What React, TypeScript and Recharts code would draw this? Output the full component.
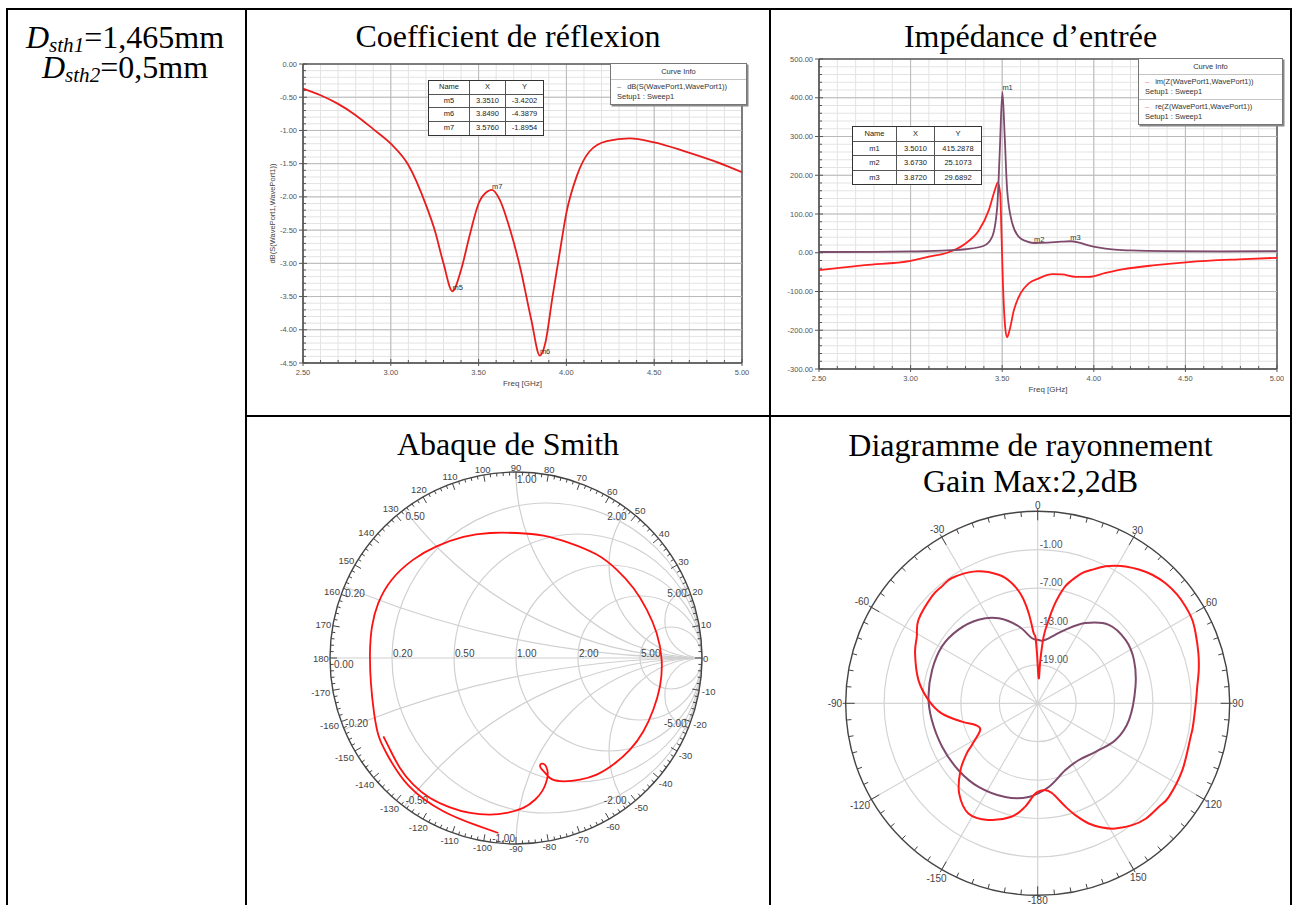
import React from 'react';
import * as R from 'recharts';
import {
  LineChart, Line, XAxis, YAxis, CartesianGrid, ReferenceLine, ReferenceDot,
  RadarChart, Radar, PolarGrid, PolarAngleAxis, PolarRadiusAxis,
} from 'recharts';

const SERIF = '"Liberation Serif", "Times New Roman", Times, serif';
const SANS = '"Liberation Sans", Arial, Helvetica, sans-serif';

// ---------------- Coefficient de réflexion (dB S11) ----------------
const s11Freq = [2.5, 2.6, 2.7, 2.8, 2.9, 3.0, 3.1, 3.2, 3.25, 3.3, 3.351, 3.4, 3.45, 3.5, 3.55, 3.576, 3.62, 3.68, 3.74, 3.8, 3.849, 3.88, 3.92, 3.96, 4.0, 4.06, 4.13, 4.23, 4.36, 4.5, 4.67, 4.85, 5.0];
const s11Db = [-0.37, -0.47, -0.6, -0.77, -0.98, -1.2, -1.52, -2.12, -2.5, -3.0, -3.42, -3.1, -2.57, -2.1, -1.92, -1.895, -2.04, -2.5, -3.1, -3.85, -4.388, -4.2, -3.52, -2.87, -2.24, -1.68, -1.32, -1.16, -1.12, -1.18, -1.31, -1.47, -1.63];
const s11MarkerName = ['m5', 'm6', 'm7'];
const s11MarkerX = [3.351, 3.849, 3.576];
const s11MarkerY = [-3.4202, -4.3879, -1.8954];

// ---------------- Impédance d'entrée ----------------
const zImFreq = [2.5, 2.75, 3.0, 3.1, 3.2, 3.3, 3.373, 3.427, 3.46, 3.476, 3.489, 3.496, 3.504, 3.518, 3.527, 3.54, 3.564, 3.6, 3.645, 3.7, 3.773, 3.827, 3.9, 3.973, 4.064, 4.155, 4.336, 4.518, 4.79, 5.0];
const zIm = [-45, -32, -21, -10, 0, 24, 58, 110, 162, 181, 153, 50, -79, -200, -218, -200, -148, -105, -79, -66, -55, -56, -62, -62, -52, -43, -32, -24, -17, -13];
const zReFreq = [2.5, 2.8, 3.0, 3.2, 3.3, 3.4, 3.445, 3.473, 3.487, 3.501, 3.513, 3.527, 3.555, 3.591, 3.63, 3.673, 3.75, 3.82, 3.872, 3.92, 3.97, 4.03, 4.1, 4.2, 4.4, 4.7, 5.0];
const zRe = [2, 2.5, 3.5, 6, 9, 18, 41, 119, 265, 415.29, 308, 162, 76, 41, 30, 25.11, 26, 28.5, 29.69, 26, 19, 13, 8.5, 6, 4.2, 3.8, 4.2];
const zMarkerName = ['m1', 'm2', 'm3'];
const zMarkerX = [3.501, 3.673, 3.872];
const zMarkerY = [415.2878, 25.1073, 29.6892];

// ---------------- Axis ticks ----------------
const freqMajor = [2.5, 3, 3.5, 4, 4.5, 5];
const s11Major = [0, -0.5, -1, -1.5, -2, -2.5, -3, -3.5, -4, -4.5];
const zMajor = [-300, -200, -100, 0, 100, 200, 300, 400, 500];

// ---------------- Abaque de Smith (reflection coefficient) ----------------
const smithGammaRe = [-0.095, -0.211, -0.391, -0.579, -0.692, -0.738, -0.763, -0.78, -0.785, -0.774, -0.74, -0.668, -0.552, -0.427, -0.283, -0.14, 0.004, 0.147, 0.29, 0.434, 0.541, 0.631, 0.703, 0.756, 0.783, 0.774, 0.738, 0.685, 0.613, 0.523, 0.434, 0.344, 0.254, 0.192, 0.165, 0.14, 0.129, 0.138, 0.156, 0.168, 0.17, 0.161, 0.14, 0.102, 0.039, -0.05, -0.14, -0.247, -0.355, -0.462, -0.552, -0.624, -0.677, -0.713];
const smithGammaIm = [-0.941, -0.9, -0.824, -0.685, -0.52, -0.421, -0.296, -0.134, 0.027, 0.17, 0.296, 0.421, 0.529, 0.6, 0.651, 0.672, 0.672, 0.658, 0.618, 0.556, 0.475, 0.376, 0.26, 0.134, -0.009, -0.152, -0.278, -0.394, -0.493, -0.573, -0.627, -0.654, -0.663, -0.651, -0.627, -0.6, -0.579, -0.568, -0.575, -0.6, -0.633, -0.672, -0.717, -0.762, -0.806, -0.833, -0.842, -0.833, -0.803, -0.753, -0.681, -0.591, -0.493, -0.421];
const smithCircles = [0.2, 0.5, 1, 2, 5];

// ---------------- Diagramme de rayonnement ----------------
const radRedAngle = [-178.5, -173, -167, -157, -148, -139, -131, -125.3, -122.4, -114.9, -109.2, -103.6, -96, -88.2, -78.9, -67.8, -61.1, -55, -44.7, -39.4, -34.4, -25.3, -16.9, -12.1, -8.4, -5.7, -3.3, -2, -0.8, 2.3, 3.5, 5.1, 7.5, 9.4, 11.1, 13.3, 15.6, 18.8, 22.2, 26.3, 29.5, 32.7, 37.1, 41.7, 46.8, 52.1, 56.8, 61.6, 66, 72.7, 78.3, 84, 90, 98.6, 102.3, 114.8, 125.5, 130.5, 136.9, 142.2, 148.2, 152.6, 157, 161.4, 165, 171, 176];
const radRedDb = [-10.9, -8.7, -6.8, -5.2, -4.65, -6.3, -9.0, -11.4, -12.8, -15.1, -14.7, -12.8, -9.9, -7.9, -6.0, -4.3, -3.42, -2.25, -1.5, -1.39, -1.27, -2.2, -4.0, -5.8, -8.1, -10.85, -14.0, -14.6, -17.2, -21.1, -18.2, -14.5, -11.85, -9.66, -8.0, -6.2, -5.0, -3.5, -2.46, -1.13, -0.3, 0.4, 1.2, 1.9, 2.4, 2.62, 2.6, 2.45, 2.0, 1.3, 0.7, 0.07, -0.3, -0.48, -0.54, -0.1, 0.17, -0.1, -0.3, -0.9, -1.97, -3.14, -4.6, -6.56, -8.3, -10.8, -11.4];
const radPurpleAngle = [-174.5, -160.9, -144.7, -130.2, -114.4, -99, -86.5, -72.5, -59.4, -47.1, -35.3, -24.6, -13.9, -5, 1, 4, 9.6, 20.7, 30.8, 42.2, 54.2, 65.7, 80.3, 100.4, 115.3, 130, 144, 157.5, 172.5];
const radPurpleDb = [-10.3, -9.5, -9.0, -8.8, -8.6, -8.25, -7.9, -7.7, -7.6, -8.1, -9.0, -10.4, -12.6, -14.8, -15.1, -15.2, -14.7, -12.7, -10.4, -8.45, -8.07, -8.5, -9.5, -10.5, -11.55, -13.2, -14.05, -13.7, -11.8];
const radRings = [-19, -13, -7, -1];

// ---------------- helpers ----------------
function range(a: number, b: number, step: number) {
  const out: number[] = [];
  const n = Math.round((b - a) / step);
  for (let i = 0; i <= n; i++) out.push(Math.round((a + i * step) * 1e6) / 1e6);
  return out;
}
const freqTicks = range(2.5, 5, 0.1);
const s11Ticks = range(-4.5, 0, 0.1);
const zTicks = range(-300, 500, 20);
const radRingTicks = range(-175, 180, 5);
const smithTickAngles = range(-178, 180, 2);

const s11Rows = s11Freq.map((f, i) => ({ f, v: s11Db[i] }));
const zImRows = zImFreq.map((f, i) => ({ f, v: zIm[i] }));
const zReRows = zReFreq.map((f, i) => ({ f, v: zRe[i] }));
const smithRows = smithGammaRe.map((gr, i) => ({ gr, gi: smithGammaIm[i] }));
const radRedRows = radRedAngle.map((a, i) => ({ a, db: radRedDb[i] }));
const radPurpleRows = radPurpleAngle.map((a, i) => ({ a, db: radPurpleDb[i] }));

const usePlotAreaSafe: () => any = (R as any).usePlotArea || (() => undefined);

// ---------------- HFSS style rectangular chart ----------------
function HfTickY(props: any) {
  const { x, y, payload, step } = props;
  const v = Number(payload.value);
  const major = Math.abs(v / step - Math.round(v / step)) < 1e-6;
  return (
    <g>
      <line x1={major ? x - 4 : x} x2={major ? x + 4 : x + 3} y1={y} y2={y} stroke="#555" strokeWidth={1} />
      {major ? (
        <text x={x - 6} y={y} textAnchor="end" dominantBaseline="central" fontSize={7.5} fill="#555" fontFamily={SANS}>
          {v.toFixed(2)}
        </text>
      ) : null}
    </g>
  );
}

function HfTickX(props: any) {
  const { x, y, payload } = props;
  const v = Number(payload.value);
  const major = Math.abs(v * 2 - Math.round(v * 2)) < 1e-6;
  return (
    <g>
      <line x1={x} x2={x} y1={major ? y - 4 : y - 3} y2={major ? y + 3 : y} stroke="#555" strokeWidth={1} />
      {major ? (
        <text x={x} y={y + 9} textAnchor="middle" dominantBaseline="central" fontSize={7.5} fill="#555" fontFamily={SANS}>
          {v.toFixed(2)}
        </text>
      ) : null}
    </g>
  );
}

function HfChart(p: any) {
  const yMax = p.yDomain[1];
  return (
    <div style={{ position: 'absolute', left: p.left, top: p.top }}>
      <LineChart width={p.width} height={p.height} margin={p.margin}>
        <CartesianGrid stroke="#e3e3e3" strokeWidth={1} />
        <XAxis
          type="number" dataKey="f" domain={[2.5, 5]} ticks={freqTicks} interval={0} allowDataOverflow
          height={30} tickSize={0} tickMargin={0} tickLine={false}
          axisLine={{ stroke: '#444', strokeWidth: 1.5 }} tick={<HfTickX />}
          label={{ value: 'Freq [GHz]', position: 'insideBottom', offset: 7, fontSize: 8, fill: '#444', fontFamily: SANS }}
        />
        <YAxis
          type="number" dataKey="v" domain={p.yDomain} ticks={p.yTicks} interval={0} allowDataOverflow
          width={p.yAxisWidth} tickSize={0} tickMargin={0} tickLine={false}
          axisLine={{ stroke: '#444', strokeWidth: 1.5 }} tick={<HfTickY step={p.yStep} />}
          label={p.yLabel ? { value: p.yLabel, angle: -90, position: 'insideLeft', offset: 14, fontSize: 7.5, fill: '#444', fontFamily: SANS, style: { textAnchor: 'middle' } } : undefined}
        />
        {freqMajor.map((v) => (
          <ReferenceLine key={'vx' + v} x={v} stroke={v === 5 ? '#555' : '#b9b9b9'} strokeWidth={v === 5 ? 1.5 : 1} />
        ))}
        {p.yMajor.map((v: number) => (
          <ReferenceLine key={'hy' + v} y={v} stroke={v === yMax ? '#555' : '#b9b9b9'} strokeWidth={v === yMax ? 1.5 : 1} />
        ))}
        {p.series.map((s: any) => (
          <Line key={s.name} data={s.data} dataKey="v" type="monotone" stroke={s.color} strokeWidth={1.8} dot={false} isAnimationActive={false} />
        ))}
        {p.markers.names.map((n: string, i: number) => (
          <ReferenceDot
            key={n} x={p.markers.xs[i]} y={p.markers.ys[i]} r={0} fill="none" stroke="none"
            label={{ value: n, position: 'right', offset: 0, dy: -4, fontSize: 7.5, fill: '#333', fontFamily: SANS }}
          />
        ))}
      </LineChart>
    </div>
  );
}

function MarkerTable({ left, top, cols, rowH, names, xs, ys }: any) {
  const rows = [['Name', 'X', 'Y'], ...names.map((n: string, i: number) => [n, xs[i].toFixed(4), ys[i].toFixed(4)])];
  return (
    <div style={{ position: 'absolute', left, top, border: '1.5px solid #333', background: '#fff', fontFamily: SANS, fontSize: 7.5, color: '#222' }}>
      {rows.map((r: string[], i: number) => (
        <div key={i} style={{ display: 'flex', borderTop: i ? '1px solid #555' : 'none' }}>
          {r.map((c, j) => (
            <div key={j} style={{ width: cols[j], height: rowH, lineHeight: rowH + 'px', textAlign: 'center', borderLeft: j ? '1px solid #555' : 'none', boxSizing: 'border-box' }}>
              {c}
            </div>
          ))}
        </div>
      ))}
    </div>
  );
}

function CurveInfo({ left, top, width, entries }: any) {
  return (
    <div style={{ position: 'absolute', left, top, width, background: '#fff', border: '1px solid #777', boxShadow: '1.5px 1.5px 0 #888', fontFamily: SANS, fontSize: 7.5, color: '#333', lineHeight: '10px' }}>
      <div style={{ textAlign: 'center', padding: '3px 0 2px', borderBottom: '1px solid #c4c4c4' }}>Curve Info</div>
      {entries.map((e: any, i: number) => (
        <div key={i} style={{ padding: '2px 4px 2px 6px', borderTop: i > 0 ? '1px solid #c4c4c4' : 'none' }}>
          <div><span style={{ color: e.color, marginRight: 6 }}>–</span>{e.name}</div>
          <div>Setup1 : Sweep1</div>
        </div>
      ))}
    </div>
  );
}

// ---------------- Smith chart grid ----------------
function SmithGrid({ fb }: any) {
  const pa = usePlotAreaSafe() || fb;
  const cx = pa.x + pa.width / 2;
  const cy = pa.y + pa.height / 2;
  const rad = Math.min(pa.width, pa.height) / 2;
  const gx = (g: number) => cx + g * rad;
  const gy = (g: number) => cy - g * rad;
  const grid = '#d0d0d0';
  const out: React.ReactNode[] = [];
  out.push(
    <defs key="defs">
      <clipPath id="smith-clip"><circle cx={cx} cy={cy} r={rad} /></clipPath>
    </defs>
  );
  out.push(<line key="hline" x1={gx(-1)} x2={gx(1)} y1={cy} y2={cy} stroke={grid} strokeWidth={1.2} />);
  smithCircles.forEach((r) => {
    out.push(<circle key={'r' + r} cx={gx(r / (1 + r))} cy={cy} r={rad / (1 + r)} fill="none" stroke={grid} strokeWidth={1.2} />);
  });
  smithCircles.forEach((x) => [x, -x].forEach((xv) => {
    out.push(<circle key={'x' + xv} cx={gx(1)} cy={gy(1 / xv)} r={rad / Math.abs(xv)} fill="none" stroke={grid} strokeWidth={1.2} clipPath="url(#smith-clip)" />);
  }));
  out.push(<circle key="ring" cx={cx} cy={cy} r={rad} fill="none" stroke="#444" strokeWidth={1.4} />);
  smithTickAngles.forEach((a) => {
    const major = a % 10 === 0;
    const len = major ? 7 : 3.5;
    const t = (a * Math.PI) / 180;
    const c = Math.cos(t);
    const s = Math.sin(t);
    out.push(<line key={'t' + a} x1={cx + rad * c} y1={cy - rad * s} x2={cx + (rad - len) * c} y2={cy - (rad - len) * s} stroke="#444" strokeWidth={1} />);
    if (major && a !== -180) {
      const txt = String(a);
      const d = rad + 1 + 2.7 * txt.length * Math.abs(c) + 3.5 * Math.abs(s);
      out.push(
        <text key={'l' + a} x={cx + d * c} y={cy - d * s} textAnchor="middle" dominantBaseline="central" fontSize={9.5} fill="#444" fontFamily={SANS}>
          {txt}
        </text>
      );
    }
  });
  smithCircles.forEach((r) => {
    out.push(
      <text key={'rl' + r} x={gx((r - 1) / (r + 1)) + 1} y={cy - 1} textAnchor="start" fontSize={10} fill="#444" fontFamily={SANS}>
        {r.toFixed(2)}
      </text>
    );
  });
  smithCircles.forEach((x) => [x, -x].forEach((xv) => {
    const phi = (Math.sign(xv) * (180 - (2 * Math.atan(Math.abs(xv)) * 180) / Math.PI) * Math.PI) / 180;
    const ex = cx + rad * Math.cos(phi);
    const ey = cy - rad * Math.sin(phi);
    const c = Math.cos(phi);
    let anchor = 'end';
    let tx = ex - 1;
    if (c < -0.01 || (xv > 0 && Math.abs(c) <= 0.01)) { anchor = 'start'; tx = ex + 1; }
    out.push(
      <text key={'xl' + xv} x={tx} y={xv > 0 ? ey + 7 : ey - 6} textAnchor={anchor} dominantBaseline="central" fontSize={10} fill="#444" fontFamily={SANS}>
        {xv.toFixed(2)}
      </text>
    );
  }));
  out.push(
    <text key="zero" x={gx(-1) + 4} y={cy + 6} textAnchor="start" dominantBaseline="central" fontSize={10} fill="#444" fontFamily={SANS}>0.00</text>
  );
  return <g>{out}</g>;
}

// ---------------- Polar (radiation) ticks & smooth shape ----------------
function PolarRingTick(props: any) {
  const { payload } = props;
  const cx = typeof props.cx === 'number' ? props.cx : props.fcx;
  const cy = typeof props.cy === 'number' ? props.cy : props.fcy;
  const radius = typeof props.radius === 'number' ? props.radius : props.fr;
  const th = Number(payload.value);
  const ang = 90 - th;
  const t = (ang * Math.PI) / 180;
  const c = Math.cos(t);
  const s = Math.sin(t);
  const major = Math.abs(th % 30) < 1e-6;
  const rin = radius - (major ? 9 : 5);
  const rout = radius + (major ? 3 : 0);
  const txt = th === 180 ? '-180' : String(th);
  const d = radius + 3 + 2.6 * txt.length * Math.abs(c) + 2.5 * Math.abs(s);
  return (
    <g>
      <line x1={cx + rin * c} y1={cy - rin * s} x2={cx + rout * c} y2={cy - rout * s} stroke="#444" strokeWidth={1} />
      {major ? (
        <text x={cx + d * c} y={cy - d * s} textAnchor="middle" dominantBaseline="central" fontSize={10} fill="#444" fontFamily={SANS}>
          {txt}
        </text>
      ) : null}
    </g>
  );
}

function RadiusTick(props: any) {
  const { x, y, payload } = props;
  return (
    <text x={x + 2} y={y - 2} textAnchor="start" fontSize={10} fill="#555" fontFamily={SANS}>
      {Number(payload.value).toFixed(2)}
    </text>
  );
}

// closed Catmull-Rom path through the points Recharts computed for the Radar
function SmoothRadarShape(props: any) {
  const pts: any[] = (props.points || []).filter((p: any) => Number.isFinite(p.x) && Number.isFinite(p.y));
  const n = pts.length;
  if (n < 3) return null;
  let d = `M${pts[0].x},${pts[0].y}`;
  for (let i = 0; i < n; i++) {
    const p0 = pts[(i - 1 + n) % n];
    const p1 = pts[i];
    const p2 = pts[(i + 1) % n];
    const p3 = pts[(i + 2) % n];
    const c1x = p1.x + (p2.x - p0.x) / 6;
    const c1y = p1.y + (p2.y - p0.y) / 6;
    const c2x = p2.x - (p3.x - p1.x) / 6;
    const c2y = p2.y - (p3.y - p1.y) / 6;
    d += ` C${c1x},${c1y} ${c2x},${c2y} ${p2.x},${p2.y}`;
  }
  return <path d={d + 'Z'} fill="none" stroke={props.stroke} strokeWidth={props.strokeWidth} strokeLinejoin="round" />;
}

const RAD = { w: 460, h: 425, cx: 227.7, cy: 223.3, r: 192 };
const ZERO_M = { top: 0, right: 0, bottom: 0, left: 0 };

function RadarLayer({ rows, color }: any) {
  return (
    <div style={{ position: 'absolute', left: 0, top: 0 }}>
      <RadarChart width={RAD.w} height={RAD.h} cx={RAD.cx} cy={RAD.cy} outerRadius={RAD.r} startAngle={270} endAngle={-90} data={rows} margin={ZERO_M}>
        <PolarAngleAxis dataKey="a" type="number" domain={[-180, 180]} ticks={[-180, 180]} tick={false} tickLine={false} axisLine={false} />
        <PolarRadiusAxis type="number" domain={[-25, 5]} tick={false} axisLine={false} tickLine={false} />
        <Radar dataKey="db" stroke={color} strokeWidth={2} fill="none" fillOpacity={0} dot={false} isAnimationActive={false} shape={(p: any) => <SmoothRadarShape {...p} stroke={color} strokeWidth={2} />} />
      </RadarChart>
    </div>
  );
}

function Rule({ left, top, width, height }: any) {
  return <div style={{ position: 'absolute', left, top, width, height, background: '#000' }} />;
}

function Title({ left, width, top, lineHeight, lines }: any) {
  return (
    <div style={{ position: 'absolute', left, width, top, textAlign: 'center', fontFamily: SERIF, fontSize: 32, lineHeight: lineHeight + 'px', color: '#000', whiteSpace: 'nowrap' }}>
      {lines.map((l: string) => <div key={l}>{l}</div>)}
    </div>
  );
}

export default function App() {
  const subStyle: React.CSSProperties = { fontSize: '0.66em', verticalAlign: '-0.2em', lineHeight: 0 };
  return (
    <div style={{ position: 'absolute', left: 0, top: 0, width: 1293, height: 905, overflow: 'hidden', background: '#fff' }}>
      {/* table rules */}
      <Rule left={6} top={8} width={1286} height={2} />
      <Rule left={6} top={8} width={2} height={900} />
      <Rule left={245} top={8} width={2} height={900} />
      <Rule left={769} top={8} width={2} height={900} />
      <Rule left={1290} top={8} width={2} height={900} />
      <Rule left={245} top={415} width={1047} height={2} />

      {/* left cell */}
      <div style={{ position: 'absolute', left: 8, width: 234, top: 22, textAlign: 'center', fontFamily: SERIF, fontSize: 32, lineHeight: '30px', whiteSpace: 'nowrap' }}>
        <div><i>D<sub style={subStyle}>sth1</sub></i>=1,465mm</div>
        <div><i>D<sub style={subStyle}>sth2</sub></i>=0,5mm</div>
      </div>

      {/* titles */}
      <Title left={247} width={522} top={21} lineHeight={30} lines={['Coefficient de réflexion']} />
      <Title left={771} width={519} top={21} lineHeight={30} lines={['Impédance d’entrée']} />
      <Title left={247} width={522} top={429} lineHeight={30} lines={['Abaque de Smith']} />
      <Title left={771} width={519} top={427} lineHeight={36} lines={['Diagramme de rayonnement', 'Gain Max:2,2dB']} />

      {/* Coefficient de réflexion */}
      <HfChart
        left={250} top={50} width={500} height={345}
        margin={{ top: 14, right: 8, bottom: 2, left: 8 }} yAxisWidth={45}
        yDomain={[-4.5, 0]} yTicks={s11Ticks} yStep={0.5} yMajor={s11Major}
        yLabel="dB(S(WavePort1,WavePort1))"
        series={[{ name: 's11', data: s11Rows, color: '#e81c1c' }]}
        markers={{ names: s11MarkerName, xs: s11MarkerX, ys: s11MarkerY }}
      />
      <MarkerTable left={428} top={80} cols={[40, 36, 38]} rowH={12.7} names={s11MarkerName} xs={s11MarkerX} ys={s11MarkerY} />
      <CurveInfo left={610} top={63} width={135} entries={[{ name: 'dB(S(WavePort1,WavePort1))', color: '#777' }]} />

      {/* Impédance d'entrée */}
      <HfChart
        left={772} top={48} width={512} height={355}
        margin={{ top: 11, right: 7, bottom: 4, left: 7 }} yAxisWidth={40}
        yDomain={[-300, 500]} yTicks={zTicks} yStep={100} yMajor={zMajor}
        series={[
          { name: 'im', data: zImRows, color: '#ff1f1f' },
          { name: 're', data: zReRows, color: '#7e4a6c' },
        ]}
        markers={{ names: zMarkerName, xs: zMarkerX, ys: zMarkerY }}
      />
      <MarkerTable left={852} top={126} cols={[43, 38, 47]} rowH={13.5} names={zMarkerName} xs={zMarkerX} ys={zMarkerY} />
      <CurveInfo left={1138} top={58} width={143} entries={[
        { name: 'im(Z(WavePort1,WavePort1))', color: '#f77' },
        { name: 're(Z(WavePort1,WavePort1))', color: '#f77' },
      ]} />

      {/* Abaque de Smith */}
      <div style={{ position: 'absolute', left: 300, top: 440 }}>
        <LineChart width={440} height={440} data={smithRows} margin={{ top: 32, right: 38, bottom: 36, left: 30 }}>
          <XAxis type="number" dataKey="gr" domain={[-1, 1]} allowDataOverflow hide />
          <YAxis type="number" dataKey="gi" domain={[-1, 1]} allowDataOverflow hide />
          <SmithGrid fb={{ x: 30, y: 32, width: 372, height: 372 }} />
          <Line dataKey="gi" type="natural" stroke="#ff1010" strokeWidth={1.8} dot={false} isAnimationActive={false} />
        </LineChart>
      </div>

      {/* Diagramme de rayonnement */}
      <div style={{ position: 'absolute', left: 810, top: 480, width: RAD.w, height: RAD.h }}>
        <div style={{ position: 'absolute', left: 0, top: 0 }}>
          <RadarChart width={RAD.w} height={RAD.h} cx={RAD.cx} cy={RAD.cy} outerRadius={RAD.r} startAngle={270} endAngle={-90} data={radRedRows} margin={ZERO_M}>
            <PolarGrid gridType="circle" polarAngles={[0, 30, 60, 90, 120, 150, 180, 210, 240, 270, 300, 330]} stroke="#d4d4d4" strokeWidth={1.2} />
            <PolarAngleAxis
              dataKey="a" type="number" domain={[-180, 180]} ticks={radRingTicks}
              axisLineType="circle" axisLine={{ stroke: '#444', strokeWidth: 1.4 }} tickLine={false}
              tick={<PolarRingTick fcx={RAD.cx} fcy={RAD.cy} fr={RAD.r} />}
            />
            <PolarRadiusAxis type="number" domain={[-25, 5]} ticks={radRings} tickCount={6} angle={90} axisLine={false} tickLine={false} tick={<RadiusTick />} />
            <Radar dataKey="db" stroke="none" fill="none" fillOpacity={0} dot={false} isAnimationActive={false} />
          </RadarChart>
        </div>
        <RadarLayer rows={radPurpleRows} color="#7e4a6c" />
        <RadarLayer rows={radRedRows} color="#ff1a1a" />
      </div>
    </div>
  );
}
